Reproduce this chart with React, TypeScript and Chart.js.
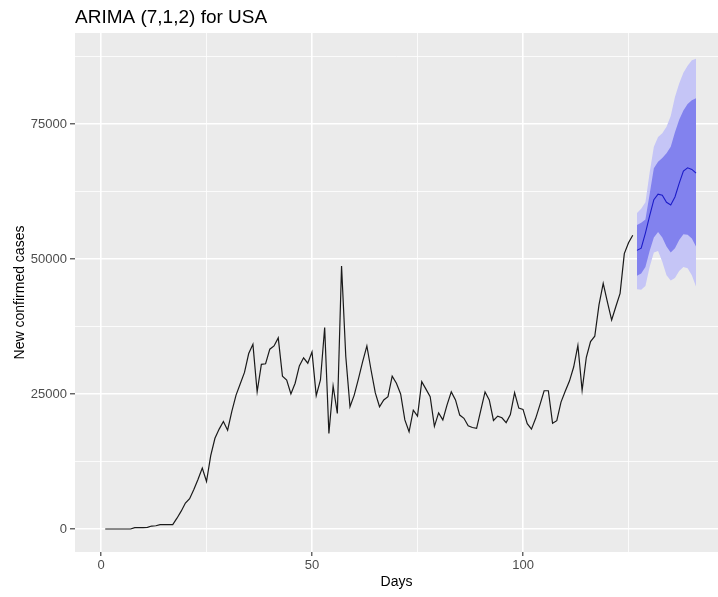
import React, { useEffect, useRef } from 'react';
import { Chart, registerables } from 'chart.js';

Chart.register(...registerables);

// ---------- data ----------
const chartTitle = 'ARIMA (7,1,2) for USA';
const xAxisTitle = 'Days';
const yAxisTitle = 'New confirmed cases';

const actualStartDay = 1;
const actualCases = [
  0, 0, 0, 0, 0, 0, 0, 250, 250, 250,
  300, 550, 600, 800, 800, 800, 800, 2000, 3300, 4800,
  5600, 7300, 9200, 11300, 8800, 13600, 16800, 18500, 19900, 18300,
  21800, 24800, 26900, 29000, 32500, 34200, 25400, 30500, 30600, 33300,
  33900, 35400, 28300, 27600, 25000, 27000, 30200, 31700, 30700, 32800,
  24700, 27600, 37300, 17700, 26500, 21400, 48700, 32000, 22650, 24800,
  27800, 31000, 33900, 29400, 25200, 22650, 23900, 24500, 28300, 27000,
  25000, 20200, 18000, 22000, 20900, 27300, 25900, 24500, 19000, 21500,
  20200, 23000, 25400, 23900, 21100, 20500, 19100, 18800, 18650, 22000,
  25400, 23900, 20100, 20900, 20600, 19700, 21200, 25250, 22400, 22150,
  19500, 18500, 20500, 23000, 25600, 25600, 19570, 20050, 23500, 25500,
  27400, 30000, 34000, 25700, 31800, 34700, 35700, 41500, 45500, 42000,
  38700, 41200, 43650, 51000, 53000, 54400,
];

const forecastStartDay = 127;
const forecastMean = [51600, 52000, 54800, 58000, 61000, 62000, 61800, 60500, 60000, 61500, 64000, 66300, 66900, 66600, 65900];
const lower80 = [46900, 47300, 48500, 51500, 54000, 55000, 54000, 52300, 51200, 52000, 53500, 54600, 54500, 53800, 52300];
const upper80 = [56300, 56700, 57300, 62000, 66800, 68000, 68700, 69600, 70800, 73500, 75800, 77500, 78700, 79400, 79800];
const lower95 = [44400, 44300, 45000, 48500, 51200, 51500, 49500, 47000, 46000, 46500, 47800, 48500, 48300, 47000, 44900];
const upper95 = [58500, 59300, 60500, 66000, 70800, 72600, 73300, 74500, 76500, 80000, 82500, 84500, 85800, 86800, 87100];

const xGridValues = [0, 25, 50, 75, 100, 125];
const xLabelValues = [0, 50, 100];
const yGridValues = [0, 12500, 25000, 37500, 50000, 62500, 75000, 87500];
const yLabelValues = [0, 25000, 50000, 75000];

const xMin = -6.16;
const xMax = 146.2;
const yMin = -4260;
const yMax = 91860;

// ---------- helpers ----------
const toPoints = (start: number, arr: number[]) => arr.map((v, i) => ({ x: start + i, y: v }));

const FONT = '"Liberation Sans", Arial, Helvetica, sans-serif';

const panelBg = {
  id: 'panelBg',
  beforeDraw(chart: any) {
    const { ctx, chartArea } = chart;
    if (!chartArea) return;
    ctx.save();
    ctx.fillStyle = '#EBEBEB';
    ctx.fillRect(chartArea.left, chartArea.top, chartArea.right - chartArea.left, chartArea.bottom - chartArea.top);
    ctx.restore();
  },
};

export default function App() {
  const canvasRef = useRef<HTMLCanvasElement | null>(null);

  useEffect(() => {
    if (!canvasRef.current) return;
    const chart = new Chart(canvasRef.current, {
      type: 'line',
      data: {
        datasets: [
          {
            label: 'Actual',
            data: toPoints(actualStartDay, actualCases),
            borderColor: '#1a1a1a',
            borderWidth: 1.2,
            pointRadius: 0,
            fill: false,
            tension: 0,
          },
          {
            label: 'Forecast',
            data: toPoints(forecastStartDay, forecastMean),
            borderColor: '#1c1cc8',
            borderWidth: 1.1,
            pointRadius: 0,
            fill: false,
            tension: 0,
          },
          {
            label: 'Lo 80',
            data: toPoints(forecastStartDay, lower80),
            borderWidth: 0,
            borderColor: 'rgba(0,0,0,0)',
            pointRadius: 0,
            fill: false,
          },
          {
            label: 'Hi 80',
            data: toPoints(forecastStartDay, upper80),
            borderWidth: 0,
            borderColor: 'rgba(0,0,0,0)',
            backgroundColor: '#8282EE',
            pointRadius: 0,
            fill: '-1',
          },
          {
            label: 'Lo 95',
            data: toPoints(forecastStartDay, lower95),
            borderWidth: 0,
            borderColor: 'rgba(0,0,0,0)',
            pointRadius: 0,
            fill: false,
          },
          {
            label: 'Hi 95',
            data: toPoints(forecastStartDay, upper95),
            borderWidth: 0,
            borderColor: 'rgba(0,0,0,0)',
            backgroundColor: '#C5C5F6',
            pointRadius: 0,
            fill: '-1',
          },
        ],
      },
      options: {
        responsive: false,
        animation: false,
        devicePixelRatio: 1,
        layout: { padding: { left: 0, right: 0, top: 0, bottom: 0 } },
        plugins: {
          legend: { display: false },
          tooltip: { enabled: false },
          title: {
            display: true,
            text: chartTitle,
            align: 'start',
            fullSize: false,
            color: '#000',
            font: { family: FONT, size: 19, weight: 'normal' },
            padding: { top: 6, bottom: 4.2 },
          },
        },
        scales: {
          x: {
            type: 'linear',
            min: xMin,
            max: xMax,
            afterBuildTicks: (scale: any) => {
              scale.ticks = xGridValues.map((v) => ({ value: v }));
            },
            afterFit: (scale: any) => {
              scale.height = 45;
            },
            border: { display: false },
            grid: {
              color: '#FFFFFF',
              lineWidth: (ctx: any) => (xLabelValues.includes(ctx.tick?.value) ? 1.6 : 0.8),
              tickColor: (ctx: any) => (xLabelValues.includes(ctx.tick?.value) ? '#333333' : 'rgba(0,0,0,0)'),
              tickLength: 4,
              tickWidth: 1.1,
              drawTicks: true,
            },
            ticks: {
              autoSkip: false,
              maxRotation: 0,
              padding: 2,
              color: '#4D4D4D',
              font: { family: FONT, size: 13 },
              callback: (v: any) => (xLabelValues.includes(Number(v)) ? String(v) : ''),
            },
            title: {
              display: true,
              text: xAxisTitle,
              color: '#000',
              font: { family: FONT, size: 14 },
              padding: { top: 0, bottom: 6 },
            },
          },
          y: {
            type: 'linear',
            min: yMin,
            max: yMax,
            afterBuildTicks: (scale: any) => {
              scale.ticks = yGridValues.map((v) => ({ value: v }));
            },
            afterFit: (scale: any) => {
              scale.width = 75;
            },
            border: { display: false },
            grid: {
              color: '#FFFFFF',
              lineWidth: (ctx: any) => (yLabelValues.includes(ctx.tick?.value) ? 1.6 : 0.8),
              tickColor: (ctx: any) => (yLabelValues.includes(ctx.tick?.value) ? '#333333' : 'rgba(0,0,0,0)'),
              tickLength: 5,
              tickWidth: 1.1,
              drawTicks: true,
            },
            ticks: {
              autoSkip: false,
              padding: 3,
              color: '#4D4D4D',
              font: { family: FONT, size: 13 },
              callback: (v: any) => (yLabelValues.includes(Number(v)) ? String(v) : ''),
            },
            title: {
              display: true,
              text: yAxisTitle,
              color: '#000',
              font: { family: FONT, size: 14 },
              padding: { top: 11.6, bottom: 0 },
            },
          },
        },
      },
      plugins: [panelBg],
    } as any);
    return () => chart.destroy();
  }, []);

  return (
    <div style={{ position: 'absolute', left: 0, top: 0, width: 718, height: 597, background: '#fff' }}>
      <canvas ref={canvasRef} width={718} height={597} style={{ display: 'block', width: 718, height: 597 }} />
    </div>
  );
}
